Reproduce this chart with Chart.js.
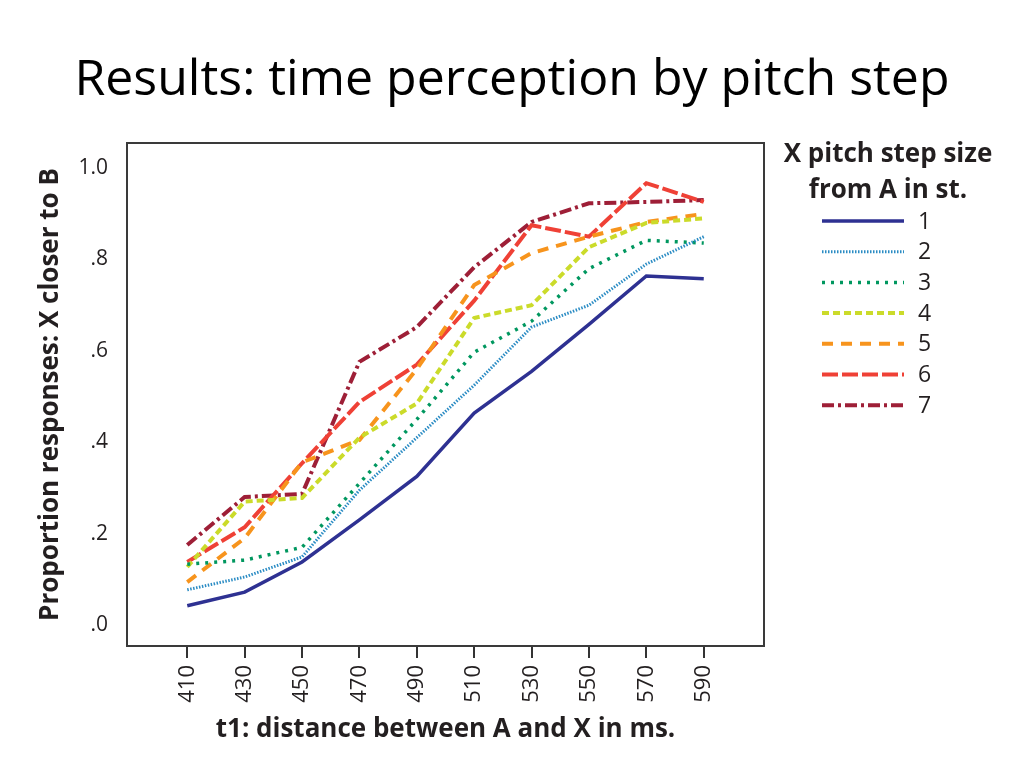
<!DOCTYPE html>
<html>
<head>
<meta charset="utf-8">
<script src="https://cdn.jsdelivr.net/npm/chart.js@4"></script>
<style>
  html, body { margin: 0; padding: 0; background: #fff; }
  #wrap { position: relative; width: 1024px; height: 768px; }
  #title {
    position: absolute; left: 0; top: 44px; width: 1024px;
    text-align: center; font-family: "Open Sans"; font-size: 50px;
    line-height: 64px; color: #000; white-space: nowrap;
  }
  canvas { position: absolute; left: 0; top: 0; }
</style>
</head>
<body>
<div id="wrap">
  <canvas id="myChart" width="1024" height="768"></canvas>
  <div id="title">Results: time perception by pitch step</div>
</div>
<script>
// t1 values in ms (x axis)
const t1 = [410, 430, 450, 470, 490, 510, 530, 550, 570, 590];
const yTicks = [0, 0.2, 0.4, 0.6, 0.8, 1.0];
const stepNames = ['1', '2', '3', '4', '5', '6', '7'];

// proportion of "X closer to B" responses, one array per pitch step
const step1 = [0.042, 0.072, 0.138, 0.230, 0.325, 0.464, 0.555, 0.658, 0.764, 0.758];
const step2 = [0.077, 0.105, 0.149, 0.295, 0.410, 0.525, 0.652, 0.700, 0.790, 0.850];
const step3 = [0.133, 0.142, 0.170, 0.310, 0.450, 0.597, 0.665, 0.780, 0.842, 0.836];
const step4 = [0.127, 0.270, 0.278, 0.410, 0.485, 0.672, 0.700, 0.827, 0.880, 0.890];
const step5 = [0.094, 0.190, 0.356, 0.405, 0.560, 0.744, 0.814, 0.850, 0.882, 0.900];
const step6 = [0.138, 0.214, 0.354, 0.488, 0.570, 0.710, 0.875, 0.850, 0.967, 0.926];
const step7 = [0.175, 0.280, 0.287, 0.576, 0.652, 0.783, 0.882, 0.923, 0.926, 0.930];
const allSteps = [step1, step2, step3, step4, step5, step6, step7];

const colors = ['#2e3192', '#2b8cc4', '#00975f', '#cbdb2a', '#f7941d', '#ef4136', '#9e1f37'];
const dashes = [[], [1.5, 1.5], [3, 6], [7, 4], [11, 8], [16, 4], [12, 4, 3, 4]];
const widths = [3.5, 3, 3.5, 4, 4, 4, 4];

const textColor = '#231f20';

const datasets = allSteps.map((vals, i) => ({
  label: stepNames[i],
  data: vals.map((v, j) => ({ x: t1[j], y: v })),
  borderColor: colors[i],
  backgroundColor: colors[i],
  borderWidth: widths[i],
  borderDash: dashes[i],
  pointRadius: 0,
  tension: 0,
  fill: false
}));

// box around the plot
const frame = {
  id: 'frame',
  afterDraw(chart) {
    const { ctx, chartArea: a } = chart;
    ctx.save();
    ctx.strokeStyle = '#3a3a3a';
    ctx.lineWidth = 2;
    ctx.strokeRect(a.left, a.top, a.right - a.left, a.bottom - a.top);
    ctx.restore();
  }
};

// legend on the right with a two line title
const sideLegend = {
  id: 'sideLegend',
  afterDraw(chart) {
    const ctx = chart.ctx;
    ctx.save();
    ctx.fillStyle = textColor;
    ctx.textAlign = 'center';
    ctx.textBaseline = 'middle';
    ctx.font = 'bold 26px "Open Sans"';
    ctx.fillText('X pitch step size', 888, 155);
    ctx.fillText('from A in st.', 888, 191);
    ctx.textAlign = 'left';
    ctx.font = '23px "Open Sans"';
    chart.data.datasets.forEach((ds, i) => {
      const y = 221 + i * 30.7;
      ctx.strokeStyle = ds.borderColor;
      ctx.lineWidth = ds.borderWidth;
      ctx.setLineDash(ds.borderDash);
      ctx.beginPath();
      ctx.moveTo(822, y);
      ctx.lineTo(904, y);
      ctx.stroke();
      ctx.fillText(ds.label, 918, y + 1);
    });
    ctx.restore();
  }
};

const ctx = document.getElementById('myChart').getContext('2d');
new Chart(ctx, {
  type: 'line',
  data: { datasets: datasets },
  plugins: [frame, sideLegend],
  options: {
    responsive: false,
    animation: false,
    layout: { padding: { top: 143, left: 35, right: 260, bottom: 0 } },
    plugins: {
      legend: { display: false },
      tooltip: { enabled: false },
      title: { display: false }
    },
    scales: {
      x: {
        type: 'linear',
        min: 389,
        max: 611,
        afterBuildTicks: (s) => { s.ticks = t1.map(v => ({ value: v })); },
        afterFit: (s) => { s.height = 122; },
        grid: { drawOnChartArea: false, drawTicks: true, tickLength: 12, color: '#333', lineWidth: 2 },
        border: { display: false },
        ticks: {
          autoSkip: false,
          minRotation: 90,
          maxRotation: 90,
          padding: 7,
          color: textColor,
          font: { family: 'Open Sans', size: 22 }
        },
        title: {
          display: true,
          text: 't1: distance between A and X in ms.',
          color: textColor,
          font: { family: 'Open Sans', size: 26, weight: 'bold' },
          padding: { top: 0, bottom: 23 }
        }
      },
      y: {
        min: -0.046,
        max: 1.055,
        afterBuildTicks: (s) => { s.ticks = yTicks.map(v => ({ value: v })); },
        afterFit: (s) => { s.width = 92; },
        grid: { display: false, drawTicks: false },
        border: { display: false },
        ticks: {
          padding: 19,
          color: textColor,
          font: { family: 'Open Sans', size: 21 },
          callback: (v) => v === 1 ? '1.0' : '.' + Math.round(v * 10)
        },
        title: {
          display: true,
          text: 'Proportion responses: X closer to B',
          color: textColor,
          font: { family: 'Open Sans', size: 26, weight: 'bold' },
          padding: { top: 0, bottom: 0 }
        }
      }
    }
  }
});
</script>
</body>
</html>
